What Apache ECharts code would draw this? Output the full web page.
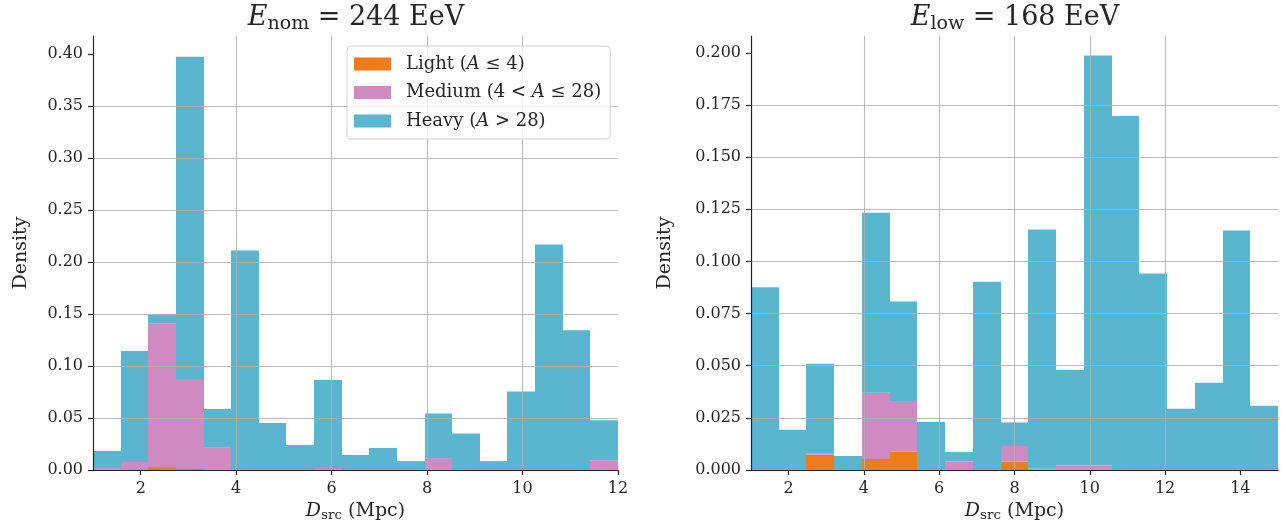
<!DOCTYPE html>
<html><head><meta charset="utf-8">
<script src="https://cdn.jsdelivr.net/npm/echarts@6/dist/echarts.min.js"></script>
<style>html,body{margin:0;padding:0;background:#fff}#c{width:1286px;height:531px}</style>
</head><body><div id="c"></div>
<script>
// ---- data (density per bin, 19 equal bins) ----
const NBINS = 19;
const nomRange = [1, 12];
const lowRange = [1, 15];

const nomLight  = [0.0008, 0.0008, 0.0029, 0.0010, 0, 0, 0, 0, 0, 0, 0, 0, 0, 0, 0, 0, 0, 0, 0];
const nomMedium = [0.0010, 0.0069, 0.1378, 0.0865, 0.0215, 0, 0, 0, 0.0019, 0, 0, 0, 0.0114, 0, 0, 0, 0, 0, 0.0094];
const nomHeavy  = [0.0165, 0.1067, 0.0090, 0.3099, 0.0372, 0.2110, 0.0452, 0.0240, 0.0846, 0.0144, 0.0212, 0.0085, 0.0429, 0.0351, 0.0085, 0.0754, 0.2169, 0.1343, 0.0384];

const lowLight  = [0, 0, 0.0073, 0, 0.0053, 0.0088, 0, 0, 0, 0.0041, 0, 0, 0, 0, 0, 0, 0, 0, 0];
const lowMedium = [0, 0, 0.0005, 0, 0.0317, 0.0243, 0, 0.0041, 0, 0.0074, 0.0006, 0.0021, 0.0021, 0, 0, 0, 0, 0, 0];
const lowHeavy  = [0.0876, 0.0193, 0.0431, 0.0067, 0.0864, 0.0477, 0.0230, 0.0045, 0.0903, 0.0113, 0.1147, 0.0459, 0.1966, 0.1698, 0.0942, 0.0294, 0.0418, 0.1148, 0.0308];

const nomXTicks = [2, 4, 6, 8, 10, 12];
const lowXTicks = [2, 4, 6, 8, 10, 12, 14];
const nomYTicks = [0, 0.05, 0.10, 0.15, 0.20, 0.25, 0.30, 0.35, 0.40];
const lowYTicks = [0, 0.025, 0.05, 0.075, 0.10, 0.125, 0.15, 0.175, 0.20];
const nomYMax = 0.4173;
const lowYMax = 0.2081;

const seriesNames = ['Light', 'Medium', 'Heavy'];
const legendLabels = {
  Light:  '{n|Light (}{i|A}{n| ≤ 4)}',
  Medium: '{n|Medium (4 < }{i|A}{n| ≤ 28)}',
  Heavy:  '{n|Heavy (}{i|A}{n| > 28)}'
};
const colors = {Light: '#f07b1c', Medium: '#ce8ac1', Heavy: '#5ab6cf'};

// ---- build ----
const FONT = 'DejaVu Serif';
const INK = '#262626';
const GRIDC = 'rgba(176,176,176,0.85)';

function edgesOf(range) {
  const e = [];
  for (let i = 0; i <= NBINS; i++) e.push(range[0] + (range[1] - range[0]) * i / NBINS);
  return e;
}
function buildStack(range, layers) {
  const e = edgesOf(range);
  const base = new Array(NBINS).fill(0);
  return layers.map(vals => vals.map((v, i) => {
    const item = [e[i], e[i + 1], base[i], base[i] + v];
    base[i] += v;
    return item;
  }));
}
function renderBar(params, api) {
  const p0 = api.coord([api.value(0), api.value(3)]);
  const p1 = api.coord([api.value(1), api.value(2)]);
  const x0 = Math.round(p0[0]), x1 = Math.round(p1[0]);
  const h = p1[1] - p0[1];
  if (h <= 0) return null;
  return {type: 'rect', shape: {x: x0, y: p0[1], width: x1 - x0, height: h},
          style: {fill: api.visual('color')}};
}

const nomStack = buildStack(nomRange, [nomLight, nomMedium, nomHeavy]);
const lowStack = buildStack(lowRange, [lowLight, lowMedium, lowHeavy]);

const series = [];
[nomStack, lowStack].forEach((stack, gi) => {
  stack.forEach((data, k) => {
    series.push({
      type: 'custom', name: seriesNames[k], xAxisIndex: gi, yAxisIndex: gi,
      renderItem: renderBar, data: data, encode: {x: [0, 1], y: [2, 3]},
      itemStyle: {color: colors[seriesNames[k]]}, z: 2, silent: true
    });
  });
});

function xAxis(gi, range, ticks) {
  return {
    type: 'value', gridIndex: gi, min: range[0], max: range[1], z: 10,
    axisLine: {show: true, onZero: false, lineStyle: {color: INK, width: 1.2}},
    axisTick: {show: true, customValues: ticks, length: 5, lineStyle: {color: INK, width: 1.2}},
    axisLabel: {customValues: ticks, fontFamily: FONT, fontSize: 16, color: INK, margin: 11},
    splitLine: {show: true, showMinLine: false, showMaxLine: false, lineStyle: {color: GRIDC, width: 1.1}},
    name: '{i|D}{s|src}{n| (Mpc)}', nameLocation: 'middle', nameGap: 29,
    nameTextStyle: {rich: {
      i: {fontFamily: FONT, fontStyle: 'italic', fontSize: 19, lineHeight: 23, color: INK},
      s: {fontFamily: FONT, fontSize: 13.5, lineHeight: 14, verticalAlign: 'bottom', color: INK},
      n: {fontFamily: FONT, fontSize: 19, lineHeight: 23, color: INK}
    }}
  };
}
function yAxis(gi, max, ticks, dec, gap) {
  return {
    type: 'value', gridIndex: gi, min: 0, max: max, z: 10,
    axisLine: {show: true, onZero: false, lineStyle: {color: INK, width: 1.2}},
    axisTick: {show: true, customValues: ticks, length: 5, lineStyle: {color: INK, width: 1.2}},
    axisLabel: {customValues: ticks, formatter: v => v.toFixed(dec), fontFamily: FONT, fontSize: 16, color: INK, margin: 10},
    splitLine: {show: true, showMinLine: false, showMaxLine: false, lineStyle: {color: GRIDC, width: 1.1}},
    name: 'Density', nameLocation: 'middle', nameGap: gap,
    nameTextStyle: {fontFamily: FONT, fontSize: 19, color: INK}
  };
}
function titleText(sub, val) {
  return '{e|E}{s|' + sub + '}{n| = ' + val + ' EeV}';
}
const titleRich = {
  e: {fontFamily: FONT, fontStyle: 'italic', fontWeight: 'normal', fontSize: 27, lineHeight: 33, color: INK},
  s: {fontFamily: FONT, fontWeight: 'normal', fontSize: 19, lineHeight: 18, verticalAlign: 'bottom', color: INK},
  n: {fontFamily: FONT, fontWeight: 'normal', fontSize: 27, lineHeight: 33, color: INK}
};

const option = {
  animation: false,
  backgroundColor: '#ffffff',
  title: [
    {text: titleText('nom', '244'), left: 351, top: -4, textAlign: 'center', textStyle: {fontWeight: 'normal', rich: titleRich}},
    {text: titleText('low', '168'), left: 1010, top: -4, textAlign: 'center', textStyle: {fontWeight: 'normal', rich: titleRich}}
  ],
  grid: [
    {left: 93, right: 1286 - 618, top: 36, bottom: 531 - 470, containLabel: false},
    {left: 751, right: 1286 - 1278, top: 36, bottom: 531 - 470, containLabel: false}
  ],
  xAxis: [xAxis(0, nomRange, nomXTicks), xAxis(1, lowRange, lowXTicks)],
  yAxis: [yAxis(0, nomYMax, nomYTicks, 2, 62), yAxis(1, lowYMax, lowYTicks, 3, 76)],
  legend: {
    orient: 'vertical', left: 347, top: 46, z: 20, selectedMode: false,
    itemWidth: 37, itemHeight: 13, itemGap: 10.5,
    padding: [9, 9, 9, 7],
    backgroundColor: 'rgba(255,255,255,0.8)', borderColor: '#d0d0d0', borderWidth: 1, borderRadius: 4,
    data: seriesNames.map(n => ({name: n, icon: 'rect', itemStyle: {color: colors[n]}})),
    formatter: n => legendLabels[n],
    textStyle: {rich: {
      n: {fontFamily: FONT, fontSize: 18, lineHeight: 18, color: INK},
      i: {fontFamily: FONT, fontStyle: 'italic', fontSize: 18, lineHeight: 18, color: INK}
    }, padding: [0, 0, 0, 10]}
  },
  series: series
};
const chart = echarts.init(document.getElementById('c'), null, {renderer: 'canvas'});
chart.setOption(option);
</script></body></html>
